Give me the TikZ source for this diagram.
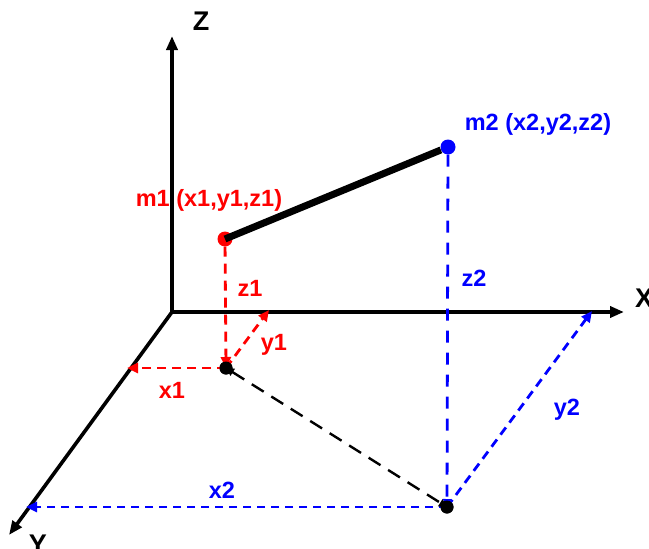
\documentclass[tikz,border=0pt]{standalone}
\usepackage{fontspec}
\setmainfont{Liberation Sans}
\usetikzlibrary{arrows.meta}
\definecolor{pred}{RGB}{255,0,0}
\definecolor{pblue}{RGB}{0,0,255}
\begin{document}
\begin{tikzpicture}[x=1pt,y=-1pt,
  axis/.style={line width=3.6pt,-{Triangle[length=14pt,width=11pt]}},
  dot/.style={circle,fill,inner sep=0pt,minimum size=#1},
  lbl/.style={font=\fontsize{23.5}{23.5}\selectfont\bfseries,inner sep=0pt},
  big/.style={font=\fontsize{27}{27}\selectfont\bfseries,inner sep=0pt},
  proj/.style={line width=2.8pt,dash pattern=on 9pt off 6pt,-{Triangle[length=11pt,width=10pt]}},
  vproj/.style={line width=2.8pt,dash pattern=on 11pt off 9pt,-{Triangle[length=8pt,width=8pt]}}]
\useasboundingbox (0,0) rectangle (649,549);
% axes
\coordinate (O) at (172,312);
\coordinate (Zend) at (172,36);
\coordinate (Xend) at (624,312);
\coordinate (Yend) at (9,535);
\draw[axis] (O) -- (Zend);
\draw[axis] (O) -- (Xend);
\draw[axis] (O) -- (Yend);
\node[big] (zl) at (201,21) {Z};
\node[big,anchor=west] (xl) at (635,298) {X};
\node[big] (yl) at (38,544) {Y};
% points
\node[dot=15pt,pred] (m1) at (225,239) {};
\node[dot=15pt,pblue] (m2) at (448,147) {};
\node[dot=13pt,black] (p1) at (226,368) {};
\node[dot=13pt,black] (p2) at (447,507) {};
\coordinate (ax1) at (127,368);
\coordinate (ay1) at (269,310);
\coordinate (ax2) at (26,507);
\coordinate (ay2) at (592,311);
% segment
\draw[line width=7pt] (m1.center) -- (m2);
% projections
\draw[proj,pred,dash pattern=on 10pt off 7pt] (m1) -- (p1.center);
\draw[proj,pred] (p1.center) -- (ax1);
\draw[proj,pred] (p1.center) -- (ay1);
\draw[vproj,pblue,dash pattern=on 12pt off 10pt] (m2) -- (p2.center);
\draw[proj,pblue,dash pattern=on 8pt off 6pt] (p2.center) -- (ax2);
\draw[proj,pblue] (p2.center) -- (ay2);
\draw[line width=2.4pt,dash pattern=on 14pt off 9pt,black,{Triangle[length=8pt,width=8pt]}-{Triangle[length=8pt,width=8pt]}] (p1.center) -- (p2.center);
\node[dot=13pt,black] at (p1) {};
\node[dot=13pt,black] at (p2) {};
% labels
\node[lbl,pred] (lm1) at (209,200) {m1 (x1,y1,z1)};
\node[lbl,pblue] (lm2) at (538,124) {m2 (x2,y2,z2)};
\node[lbl,pred] (lz1) at (250,288) {z1};
\node[lbl,pred] (ly1) at (274,345) {y1};
\node[lbl,pred] (lx1) at (172,390) {x1};
\node[lbl,pblue] (lz2) at (474,278) {z2};
\node[lbl,pblue] (ly2) at (567,410) {y2};
\node[lbl,pblue] (lx2) at (222,490) {x2};
\end{tikzpicture}
\end{document}
